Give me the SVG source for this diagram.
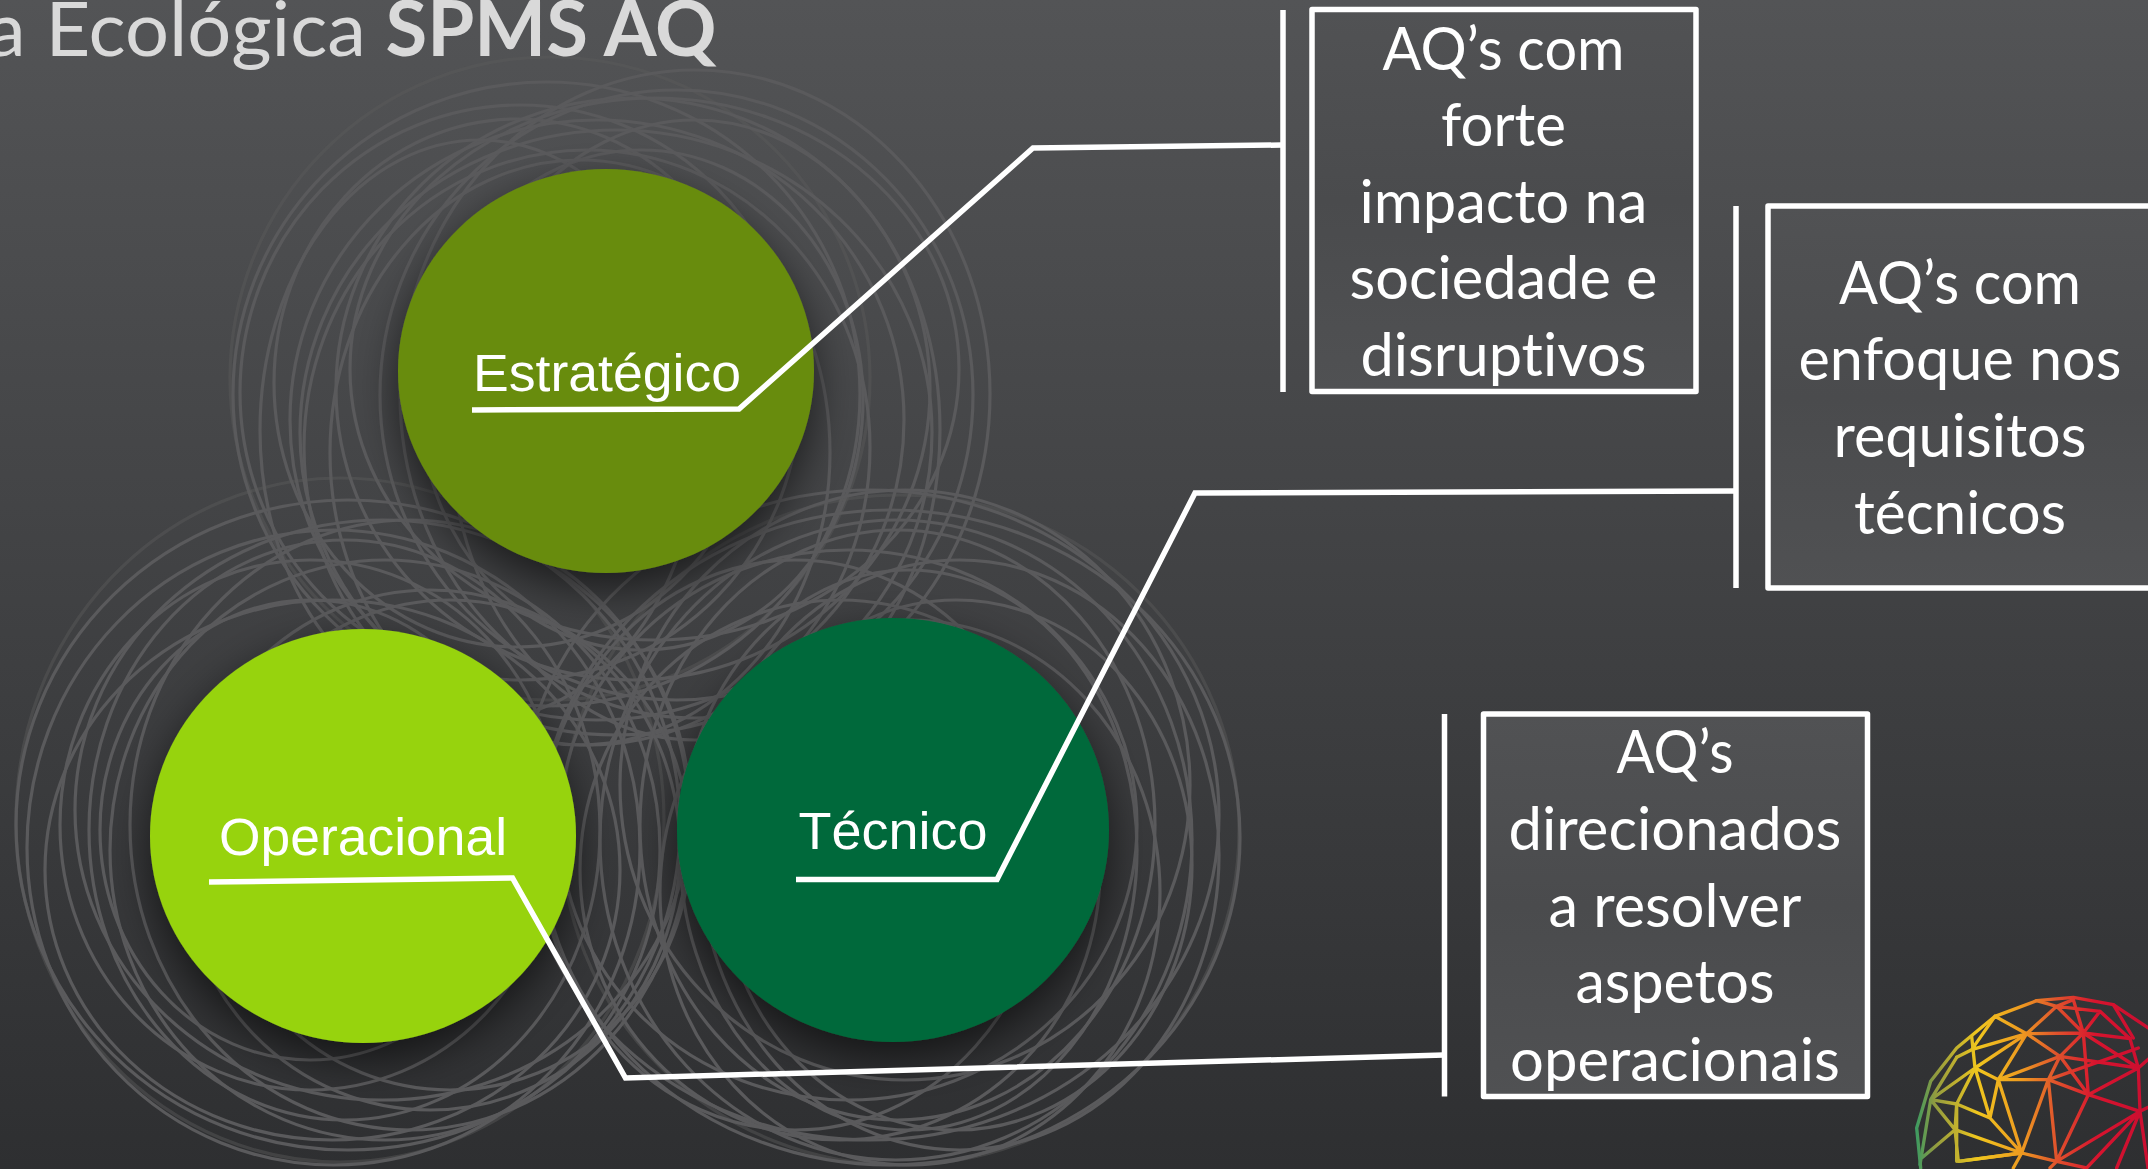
<svg xmlns="http://www.w3.org/2000/svg" width="2148" height="1169" viewBox="0 0 2148 1169">
<style>
.r{fill:none;stroke:#5a5a5c;stroke-width:3.2}
.f{opacity:.45}
.lab{font-family:"Liberation Sans",Arial,sans-serif;font-size:51px;fill:#fff;text-anchor:middle}
.bt{font-family:Lato,"Open Sans",sans-serif;font-size:60px;fill:#fff;text-anchor:middle;font-variant-ligatures:none}
.box{fill:url(#bx);stroke:#fff;stroke-width:5.5;stroke-linejoin:round}
.c{fill:none;stroke:#fff;stroke-width:5.5;stroke-linejoin:miter}
.tt{font-family:Lato,"Open Sans",sans-serif;font-size:76px;fill:#d9d9d9;font-variant-ligatures:none}
.g{fill:none;stroke:url(#sph);stroke-width:10;stroke-linejoin:round;stroke-linecap:round}
</style>
<defs>
<linearGradient id="bg" x1="0" y1="0" x2="0" y2="1"><stop offset="0" stop-color="#535456"/><stop offset="1" stop-color="#2e2f31"/></linearGradient>
<linearGradient id="bx" x1="0" y1="0" x2="0" y2="1"><stop offset="0" stop-color="#515254"/><stop offset=".5" stop-color="#4a4b4d"/><stop offset="1" stop-color="#505153"/></linearGradient>
<linearGradient id="sph" gradientUnits="userSpaceOnUse" x1="50" y1="0" x2="720" y2="0"><stop offset="0" stop-color="#3f9a60"/><stop offset=".08" stop-color="#8f9a40"/><stop offset=".27" stop-color="#f0c71e"/><stop offset=".47" stop-color="#ee9a20"/><stop offset=".62" stop-color="#e0552c"/><stop offset=".8" stop-color="#d8142e"/><stop offset="1" stop-color="#cc0f30"/></linearGradient>
<filter id="sh" x="-30%" y="-30%" width="160%" height="160%"><feGaussianBlur in="SourceAlpha" stdDeviation="22"/><feOffset dy="16"/><feComponentTransfer><feFuncA type="linear" slope=".6"/></feComponentTransfer><feMerge><feMergeNode/><feMergeNode in="SourceGraphic"/></feMerge></filter>
</defs>
<rect width="2148" height="1169" fill="url(#bg)"/>
<g id="rings">
<ellipse class="r f" cx="550" cy="378.500" rx="320" ry="321.500"/>
<ellipse class="r" cx="546.500" cy="394" rx="313.500" ry="312"/>
<ellipse class="r" cx="520" cy="392.500" rx="280" ry="287.500"/>
<ellipse class="r" cx="517" cy="383" rx="243" ry="264"/>
<ellipse class="r" cx="587" cy="447.500" rx="283" ry="297.500"/>
<ellipse class="r" cx="633" cy="389" rx="297" ry="291"/>
<ellipse class="r" cx="695" cy="394" rx="295" ry="324"/>
<ellipse class="r" cx="676.500" cy="395" rx="296.500" ry="305"/>
<ellipse class="r" cx="654.500" cy="369" rx="304.500" ry="271"/>
<ellipse class="r" cx="616" cy="432.500" rx="316" ry="302.500"/>
<ellipse class="r" cx="597" cy="420" rx="307" ry="300"/>
<ellipse class="r" cx="641.500" cy="400" rx="221.500" ry="250"/>
<ellipse class="r" cx="480" cy="430" rx="220" ry="290"/>
<ellipse class="r" cx="695" cy="430" rx="245" ry="310"/>
<ellipse class="r" cx="580" cy="452.500" rx="250" ry="292.500"/>
<ellipse class="r f" cx="340" cy="820" rx="324" ry="342"/>
<ellipse class="r" cx="348" cy="825" rx="332" ry="325"/>
<ellipse class="r" cx="333.500" cy="847.500" rx="306.500" ry="317.500"/>
<ellipse class="r" cx="382.500" cy="810" rx="307.500" ry="290"/>
<ellipse class="r" cx="344.500" cy="830" rx="255.500" ry="290"/>
<ellipse class="r" cx="385" cy="850" rx="275" ry="290"/>
<ellipse class="r" cx="310" cy="825" rx="250" ry="265"/>
<ellipse class="r" cx="410" cy="825" rx="280" ry="305"/>
<ellipse class="r" cx="332.500" cy="870" rx="287.500" ry="270"/>
<ellipse class="r" cx="310" cy="830" rx="210" ry="230"/>
<ellipse class="r" cx="430" cy="850" rx="250" ry="260"/>
<ellipse class="r" cx="450" cy="845" rx="240" ry="245"/>
<ellipse class="r f" cx="900" cy="830" rx="339" ry="335"/>
<ellipse class="r" cx="890" cy="837.500" rx="350" ry="327.500"/>
<ellipse class="r" cx="869.500" cy="815" rx="349.500" ry="325"/>
<ellipse class="r" cx="896" cy="840" rx="296" ry="320"/>
<ellipse class="r" cx="897.500" cy="825" rx="257.500" ry="295"/>
<ellipse class="r" cx="908.500" cy="850" rx="228.500" ry="280"/>
<ellipse class="r" cx="848.500" cy="825" rx="288.500" ry="275"/>
<ellipse class="r" cx="959.500" cy="855" rx="259.500" ry="295"/>
<ellipse class="r" cx="840" cy="870" rx="260" ry="270"/>
<ellipse class="r" cx="905" cy="785" rx="285" ry="295"/>
<ellipse class="r" cx="795" cy="845" rx="255" ry="285"/>
<ellipse class="r" cx="910" cy="892.500" rx="250" ry="272.500"/>
<ellipse class="r" cx="956" cy="865" rx="236" ry="265"/>
</g>
<g id="node-estrategico"><ellipse cx="606" cy="371" rx="208" ry="202" fill="#688c0c" filter="url(#sh)"/><text class="lab" x="607" y="390.500" textLength="268" lengthAdjust="spacingAndGlyphs">Estratégico</text></g>
<g id="node-operacional"><ellipse cx="363" cy="836" rx="213" ry="207" fill="#97d30f" filter="url(#sh)"/><text class="lab" x="363" y="855" textLength="288" lengthAdjust="spacingAndGlyphs">Operacional</text></g>
<g id="node-tecnico"><ellipse cx="893" cy="830" rx="216" ry="212" fill="#00693a" filter="url(#sh)"/><text class="lab" x="893" y="849" textLength="189" lengthAdjust="spacingAndGlyphs">Técnico</text></g>
<g id="connectors">
<path class="c" d="M472 410L739 409L1033 148L1282 145"/>
<path class="c" d="M796 879.500L997 879.500L1195 493L1734 491"/>
<path class="c" d="M209 882L512.500 878L625.500 1078L1444 1055"/>
<path class="c" d="M1283 10V392M1736 206V588M1444.500 714V1096.500"/>
</g>
<g id="box-1"><rect class="box" x="1312" y="9.500" width="384" height="382"/>
<text class="bt" x="1503.500" y="69.500" textLength="242" lengthAdjust="spacingAndGlyphs">AQ’s com</text>
<text class="bt" x="1503.500" y="145.500" textLength="125" lengthAdjust="spacingAndGlyphs">forte</text>
<text class="bt" x="1503.500" y="222.500" textLength="288" lengthAdjust="spacingAndGlyphs">impacto na</text>
<text class="bt" x="1503.500" y="299" textLength="308" lengthAdjust="spacingAndGlyphs">sociedade e</text>
<text class="bt" x="1503.500" y="375.500" textLength="286" lengthAdjust="spacingAndGlyphs">disruptivos</text></g>
<g id="box-2"><rect class="box" x="1768" y="206" width="400" height="382"/>
<text class="bt" x="1960" y="303.500" textLength="242" lengthAdjust="spacingAndGlyphs">AQ’s com</text>
<text class="bt" x="1960" y="380" textLength="323" lengthAdjust="spacingAndGlyphs">enfoque nos</text>
<text class="bt" x="1960" y="457" textLength="253" lengthAdjust="spacingAndGlyphs">requisitos</text>
<text class="bt" x="1960" y="533.500" textLength="212" lengthAdjust="spacingAndGlyphs">técnicos</text></g>
<g id="box-3"><rect class="box" x="1483.500" y="714" width="384" height="382.500"/>
<text class="bt" x="1675" y="773" textLength="117" lengthAdjust="spacingAndGlyphs">AQ’s</text>
<text class="bt" x="1675" y="850" textLength="333" lengthAdjust="spacingAndGlyphs">direcionados</text>
<text class="bt" x="1675" y="926.500" textLength="253" lengthAdjust="spacingAndGlyphs">a resolver</text>
<text class="bt" x="1675" y="1003" textLength="199" lengthAdjust="spacingAndGlyphs">aspetos</text>
<text class="bt" x="1675" y="1080.500" textLength="330" lengthAdjust="spacingAndGlyphs">operacionais</text></g>
<g id="title">
<text class="tt" x="-13" y="55.500" textLength="379" lengthAdjust="spacingAndGlyphs">a Ecológica</text>
<text class="tt" x="385.500" y="55.500" font-weight="700" textLength="331" lengthAdjust="spacingAndGlyphs">SPMS AQ</text>
</g>
<g id="logo" transform="translate(1900 968) scale(.33333)">
<path class="g" d="M62 600L50 480L92 340L170 240L285 145L410 98L520 88L640 110L760 190"/>
<path class="g" d="M285 145L380 197L215 245M285 145L215 245L170 268M380 197L470 115L410 98M470 115L520 95L550 195L470 115M380 197L550 195L690 212L600 130L550 195M640 110L700 210M600 130L470 115"/>
<path class="g" d="M380 197L480 265L550 195L565 380L480 265L715 300L690 212M550 195L715 300M480 265L445 335L715 240M380 197L295 335L225 300L380 197M215 205L225 300L92 395L170 268M225 300L170 408L92 395L165 485L65 570M225 300L270 450L295 335L365 555L270 450L170 408L165 485L365 555L175 580L165 485M170 408V580M92 395L60 590"/>
<path class="g" d="M295 335L445 335L565 380L720 430L715 300L760 260M295 335L480 265M445 335L365 555L175 580M445 335L470 580L565 380L470 580L720 430L715 300M365 555L470 580L560 600M365 555L340 600M470 580L450 600M720 430L560 600M720 430L650 600M720 430L744 600M720 430L780 400M565 380L715 300"/>
</g>
</svg>
